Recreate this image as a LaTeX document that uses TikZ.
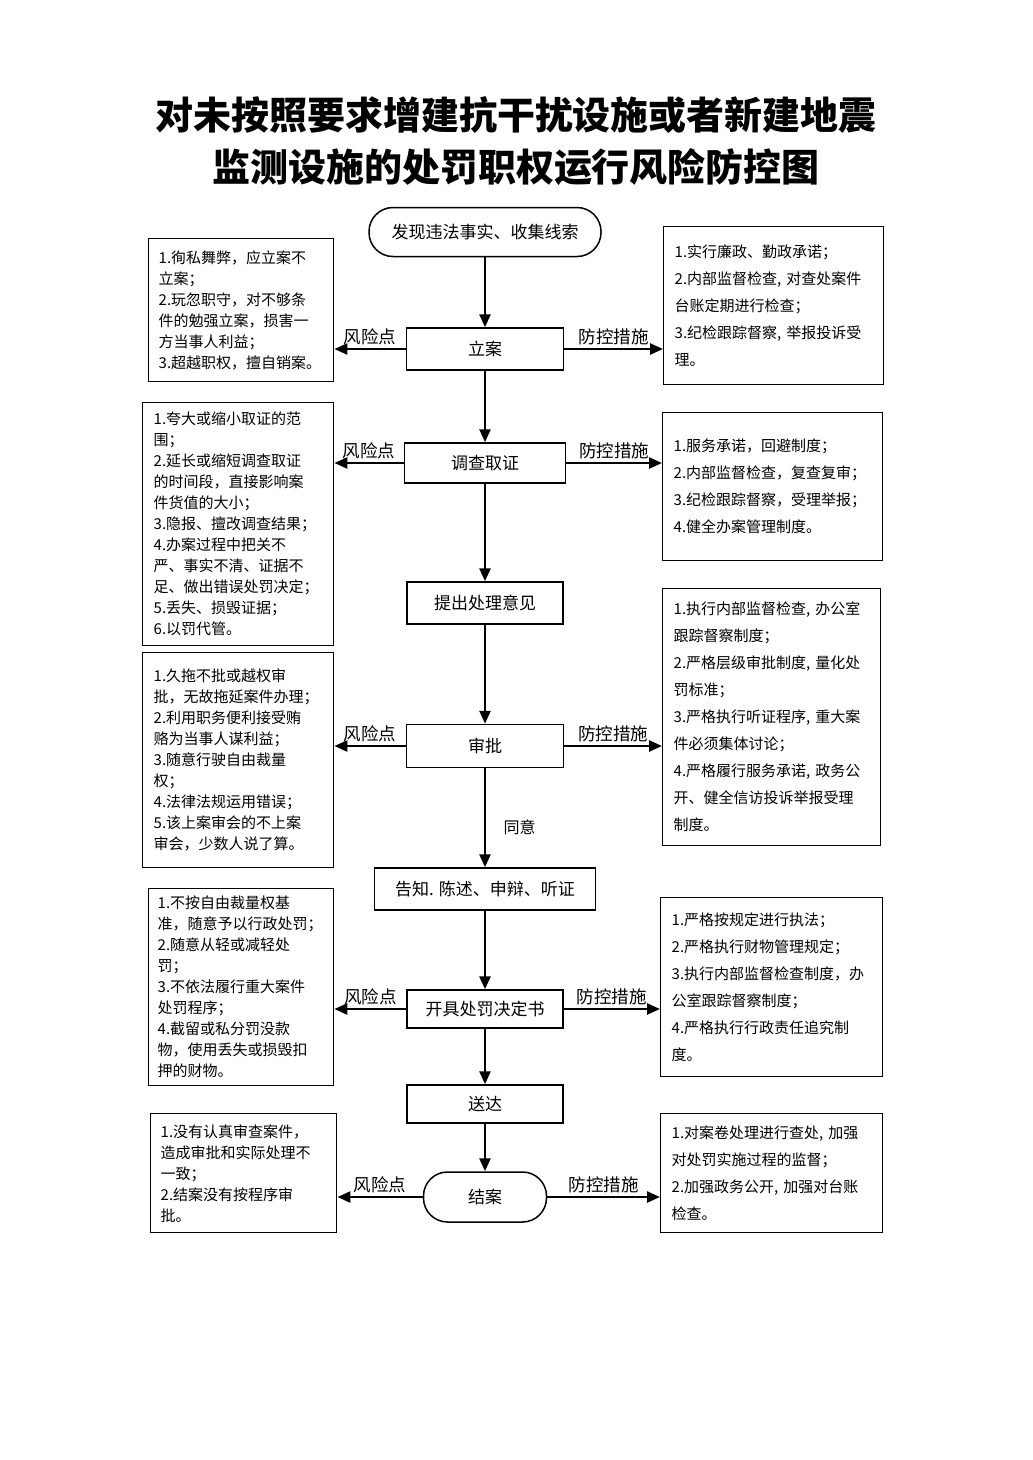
\documentclass[tikz,border=0pt]{standalone}
\usepackage{fontspec}
\setmainfont{Noto Sans CJK SC}
\usetikzlibrary{arrows.meta}

\begin{document}
\begin{tikzpicture}[
        x=1pt,
        y=-1pt,
        step-box/.style={
            draw,
            line width=1.5pt,
            inner sep=2pt,
            font=\fontsize{17pt}{20pt}\selectfont,
        },
        end-box/.style={
            step-box,
            rounded corners=24pt,
        },
        side-box/.style n args={3}{
            draw,
            line width=1.4pt,
            anchor=north west,
            inner xsep=0pt,
            inner ysep=0pt,
            minimum width=#1,
            text width=#2,
            minimum height=#3,
            align=left,
        },
        risk-box/.style n args={3}{
            side-box={#1}{#2}{#3},
            font=\fontsize{15pt}{21pt}\selectfont,
        },
        ctrl-box/.style n args={3}{
            side-box={#1}{#2}{#3},
            font=\fontsize{15pt}{27pt}\selectfont,
        },
        flow-arrow/.style={
            line width=2.5pt,
            -{Triangle[length=13pt,width=11pt]},
        },
        side-arrow/.style={
            flow-arrow,
        },
        tag/.style={
            font=\fontsize{17.5pt}{20pt}\selectfont,
            inner sep=1pt,
        },
    ]

    \useasboundingbox[fill=white] (0,0) rectangle (1033,1460);

    % Title.
    \node[align=center, font=\fontsize{38pt}{52pt}\selectfont\bfseries] (title) at (516,141)
        {对未按照要求增建抗干扰设施或者新建地震\\监测设施的处罚职权运行风险防控图};

    % Main steps.
    \node[end-box, minimum width=232pt, minimum height=49pt] (start) at (485,232) {发现违法事实、收集线索};
    \node[step-box, minimum width=157pt, minimum height=42pt] (la) at (485,349) {立案};
    \node[step-box, minimum width=161pt, minimum height=40pt] (dc) at (485,463) {调查取证};
    \node[step-box, minimum width=156pt, minimum height=42pt] (tc) at (485,603) {提出处理意见};
    \node[step-box, minimum width=157pt, minimum height=43pt] (sp) at (485,746) {审批};
    \node[step-box, minimum width=221pt, minimum height=42pt] (gz) at (485,889) {告知. 陈述、申辩、听证};
    \node[step-box, minimum width=156pt, minimum height=38pt] (kj) at (485,1009) {开具处罚决定书};
    \node[step-box, minimum width=156pt, minimum height=38pt] (sd) at (485,1104) {送达};
    \node[end-box, minimum width=123pt, minimum height=50pt] (ja) at (485,1197) {结案};

    % Risk points.
    \node[risk-box={185pt}{165pt}{143pt}] (risk1) at (148,238)
        {1.徇私舞弊，应立案不\\立案；\\2.玩忽职守，对不够条\\件的勉强立案，损害一\\方当事人利益；\\3.超越职权，擅自销案。};
    \node[risk-box={191pt}{169pt}{243pt}] (risk2) at (142,402)
        {1.夸大或缩小取证的范\\围；\\2.延长或缩短调查取证\\的时间段，直接影响案\\件货值的大小；\\3.隐报、擅改调查结果；\\4.办案过程中把关不\\严、事实不清、证据不\\足、做出错误处罚决定；\\5.丢失、损毁证据；\\6.以罚代管。};
    \node[risk-box={191pt}{169pt}{215pt}] (risk3) at (142,652)
        {1.久拖不批或越权审\\批，无故拖延案件办理；\\2.利用职务便利接受贿\\赂为当事人谋利益；\\3.随意行驶自由裁量\\权；\\4.法律法规运用错误；\\5.该上案审会的不上案\\审会，少数人说了算。};
    \node[risk-box={185pt}{167pt}{197pt}] (risk4) at (148,888)
        {1.不按自由裁量权基\\准，随意予以行政处罚；\\2.随意从轻或减轻处\\罚；\\3.不依法履行重大案件\\处罚程序；\\4.截留或私分罚没款\\物，使用丢失或损毁扣\\押的财物。};
    \node[risk-box={186pt}{166pt}{119pt}] (risk5) at (150,1113)
        {1.没有认真审查案件，\\造成审批和实际处理不\\一致；\\2.结案没有按程序审\\批。};

    % Control measures.
    \node[ctrl-box={220pt}{198pt}{158pt}] (ctrl1) at (663,226)
        {1.实行廉政、勤政承诺；\\2.内部监督检查, 对查处案件\\台账定期进行检查；\\3.纪检跟踪督察, 举报投诉受\\理。};
    \node[ctrl-box={220pt}{198pt}{148pt}] (ctrl2) at (662,412)
        {1.服务承诺，回避制度；\\2.内部监督检查，复查复审；\\3.纪检跟踪督察，受理举报；\\4.健全办案管理制度。};
    \node[ctrl-box={218pt}{196pt}{257pt}] (ctrl3) at (662,588)
        {1.执行内部监督检查, 办公室\\跟踪督察制度；\\2.严格层级审批制度, 量化处\\罚标准；\\3.严格执行听证程序, 重大案\\件必须集体讨论；\\4.严格履行服务承诺, 政务公\\开、健全信访投诉举报受理\\制度。};
    \node[ctrl-box={222pt}{200pt}{179pt}] (ctrl4) at (660,897)
        {1.严格按规定进行执法；\\2.严格执行财物管理规定；\\3.执行内部监督检查制度，办\\公室跟踪督察制度；\\4.严格执行行政责任追究制\\度。};
    \node[ctrl-box={222pt}{200pt}{119pt}] (ctrl5) at (660,1113)
        {1.对案卷处理进行查处, 加强\\对处罚实施过程的监督；\\2.加强政务公开, 加强对台账\\检查。};

    % Main flow.
    \foreach \a/\b in {start/la, la/dc, dc/tc, tc/sp, gz/kj, kj/sd, sd/ja}
    \draw[flow-arrow] (\a) -- (\b);

    \draw[flow-arrow] (sp) -- (gz) node[pos=0.6, right=14pt, font=\fontsize{16pt}{18pt}\selectfont] {同意};

    % Risk points and control measures.
    \foreach \s/\n in {la/1, dc/2, sp/3, kj/4, ja/5} {
        \draw[side-arrow] (\s.west) -- (\s.west -| risk\n.east) node[tag, midway, above=2pt] {风险点};
        \draw[side-arrow] (\s.east) -- (\s.east -| ctrl\n.west) node[tag, midway, above=2pt] {防控措施};
    }
\end{tikzpicture}
\end{document}
